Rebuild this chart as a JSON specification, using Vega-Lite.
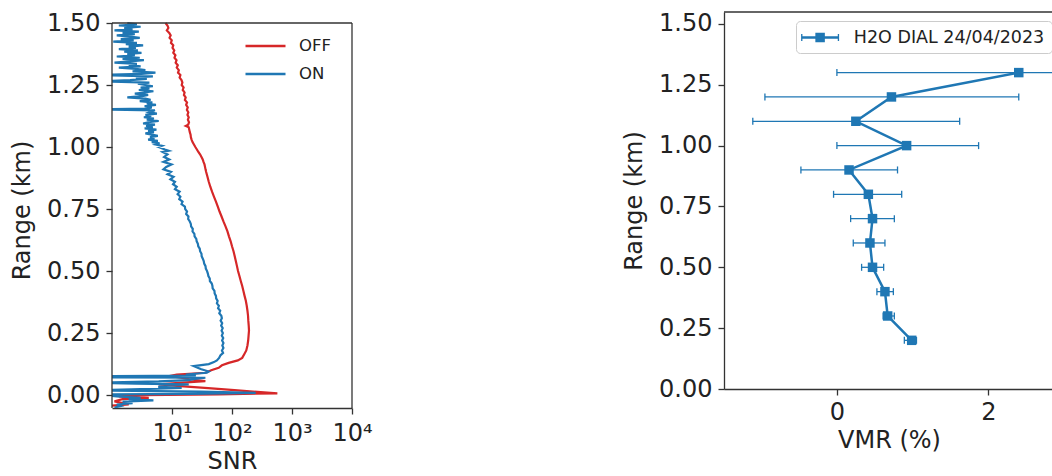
{
  "$schema": "https://vega.github.io/schema/vega-lite/v6.json",
  "padding": {"left": 10, "top": 11, "right": 0, "bottom": 0},
  "spacing": 249,
  "datasets": {
    "snr": [
      {"s":"OFF","r":1.5,"v":7.8},{"s":"OFF","r":1.49,"v":8.4},{"s":"OFF","r":1.48,"v":8.7},{"s":"OFF","r":1.47,"v":8.2},{"s":"OFF","r":1.46,"v":9.0},{"s":"OFF","r":1.45,"v":9.5},{"s":"OFF","r":1.44,"v":9.1},{"s":"OFF","r":1.43,"v":9.9},{"s":"OFF","r":1.42,"v":9.6},{"s":"OFF","r":1.41,"v":10.5},{"s":"OFF","r":1.40,"v":10.2},{"s":"OFF","r":1.39,"v":10.9},{"s":"OFF","r":1.38,"v":10.5},{"s":"OFF","r":1.37,"v":11.4},{"s":"OFF","r":1.36,"v":11.0},{"s":"OFF","r":1.35,"v":11.9},{"s":"OFF","r":1.34,"v":11.5},{"s":"OFF","r":1.33,"v":12.5},{"s":"OFF","r":1.32,"v":12.0},{"s":"OFF","r":1.31,"v":13.0},{"s":"OFF","r":1.30,"v":12.6},{"s":"OFF","r":1.29,"v":13.8},{"s":"OFF","r":1.28,"v":13.4},{"s":"OFF","r":1.27,"v":14.4},{"s":"OFF","r":1.26,"v":14.9},{"s":"OFF","r":1.25,"v":14.5},{"s":"OFF","r":1.24,"v":15.6},{"s":"OFF","r":1.23,"v":15.1},{"s":"OFF","r":1.22,"v":16.2},{"s":"OFF","r":1.21,"v":15.8},{"s":"OFF","r":1.20,"v":16.9},{"s":"OFF","r":1.19,"v":16.4},{"s":"OFF","r":1.18,"v":17.8},{"s":"OFF","r":1.17,"v":17.2},{"s":"OFF","r":1.16,"v":18.3},{"s":"OFF","r":1.15,"v":17.7},{"s":"OFF","r":1.14,"v":18.7},{"s":"OFF","r":1.13,"v":18.1},{"s":"OFF","r":1.12,"v":19.0},{"s":"OFF","r":1.11,"v":18.4},{"s":"OFF","r":1.10,"v":19.2},{"s":"OFF","r":1.09,"v":18.6},{"s":"OFF","r":1.085,"v":17.0},{"s":"OFF","r":1.08,"v":19.0},{"s":"OFF","r":1.07,"v":19.4},{"s":"OFF","r":1.06,"v":19.8},{"s":"OFF","r":1.05,"v":20.4},{"s":"OFF","r":1.04,"v":20.6},{"s":"OFF","r":1.03,"v":21.2},{"s":"OFF","r":1.02,"v":22.0},{"s":"OFF","r":1.01,"v":23.2},{"s":"OFF","r":1.00,"v":24.5},
      {"s":"OFF","r":0.99,"v":26},{"s":"OFF","r":0.98,"v":27.5},{"s":"OFF","r":0.97,"v":29.5},{"s":"OFF","r":0.96,"v":31},{"s":"OFF","r":0.95,"v":32.5},{"s":"OFF","r":0.94,"v":33.5},{"s":"OFF","r":0.93,"v":34.8},{"s":"OFF","r":0.92,"v":35.5},{"s":"OFF","r":0.91,"v":36.2},{"s":"OFF","r":0.90,"v":37},{"s":"OFF","r":0.88,"v":39},{"s":"OFF","r":0.86,"v":41},{"s":"OFF","r":0.84,"v":43.5},{"s":"OFF","r":0.82,"v":46.5},{"s":"OFF","r":0.80,"v":50},{"s":"OFF","r":0.78,"v":54},{"s":"OFF","r":0.76,"v":58},{"s":"OFF","r":0.74,"v":62},{"s":"OFF","r":0.72,"v":67},{"s":"OFF","r":0.70,"v":72},{"s":"OFF","r":0.68,"v":78},{"s":"OFF","r":0.66,"v":84},{"s":"OFF","r":0.64,"v":89},{"s":"OFF","r":0.62,"v":95},{"s":"OFF","r":0.60,"v":100},{"s":"OFF","r":0.58,"v":106},{"s":"OFF","r":0.56,"v":111},{"s":"OFF","r":0.54,"v":116},{"s":"OFF","r":0.52,"v":121},{"s":"OFF","r":0.50,"v":126},{"s":"OFF","r":0.48,"v":133},{"s":"OFF","r":0.46,"v":140},{"s":"OFF","r":0.44,"v":148},{"s":"OFF","r":0.42,"v":155},{"s":"OFF","r":0.40,"v":162},{"s":"OFF","r":0.38,"v":170},{"s":"OFF","r":0.36,"v":176},{"s":"OFF","r":0.34,"v":181},{"s":"OFF","r":0.32,"v":185},{"s":"OFF","r":0.30,"v":187},{"s":"OFF","r":0.28,"v":190},{"s":"OFF","r":0.26,"v":192},{"s":"OFF","r":0.24,"v":189},{"s":"OFF","r":0.22,"v":186},{"s":"OFF","r":0.20,"v":181},{"s":"OFF","r":0.18,"v":173},{"s":"OFF","r":0.165,"v":160},{"s":"OFF","r":0.15,"v":148},{"s":"OFF","r":0.14,"v":125},{"s":"OFF","r":0.13,"v":88},{"s":"OFF","r":0.12,"v":68},{"s":"OFF","r":0.11,"v":60},{"s":"OFF","r":0.10,"v":45},{"s":"OFF","r":0.09,"v":36},{"s":"OFF","r":0.083,"v":12},{"s":"OFF","r":0.077,"v":9},{"s":"OFF","r":0.07,"v":14},{"s":"OFF","r":0.062,"v":22},{"s":"OFF","r":0.056,"v":36},{"s":"OFF","r":0.05,"v":15},{"s":"OFF","r":0.043,"v":6},{"s":"OFF","r":0.037,"v":12},{"s":"OFF","r":0.028,"v":40},{"s":"OFF","r":0.02,"v":110},{"s":"OFF","r":0.012,"v":300},{"s":"OFF","r":0.007,"v":570},{"s":"OFF","r":0.003,"v":60},{"s":"OFF","r":0.0,"v":3},{"s":"OFF","r":-0.005,"v":1.3},{"s":"OFF","r":-0.011,"v":4.1},{"s":"OFF","r":-0.016,"v":1.5},{"s":"OFF","r":-0.025,"v":1.1},{"s":"OFF","r":-0.037,"v":1.9},{"s":"OFF","r":-0.044,"v":0.8},{"s":"OFF","r":-0.052,"v":0.8},
      {"s":"ON","r":1.5,"v":1.8},{"s":"ON","r":1.495,"v":2.6},{"s":"ON","r":1.49,"v":1.3},{"s":"ON","r":1.485,"v":3.0},{"s":"ON","r":1.48,"v":1.6},{"s":"ON","r":1.475,"v":2.2},{"s":"ON","r":1.47,"v":1.1},{"s":"ON","r":1.465,"v":2.8},{"s":"ON","r":1.46,"v":1.5},{"s":"ON","r":1.455,"v":2.4},{"s":"ON","r":1.45,"v":1.2},{"s":"ON","r":1.445,"v":2.0},{"s":"ON","r":1.44,"v":2.9},{"s":"ON","r":1.435,"v":1.4},{"s":"ON","r":1.43,"v":2.3},{"s":"ON","r":1.425,"v":1.05},{"s":"ON","r":1.42,"v":2.6},{"s":"ON","r":1.415,"v":1.7},{"s":"ON","r":1.41,"v":3.3},{"s":"ON","r":1.405,"v":1.9},{"s":"ON","r":1.40,"v":2.5},{"s":"ON","r":1.395,"v":1.3},{"s":"ON","r":1.39,"v":2.7},{"s":"ON","r":1.385,"v":1.6},{"s":"ON","r":1.38,"v":3.1},{"s":"ON","r":1.375,"v":1.8},{"s":"ON","r":1.37,"v":2.4},{"s":"ON","r":1.365,"v":1.2},{"s":"ON","r":1.36,"v":2.9},{"s":"ON","r":1.355,"v":1.5},{"s":"ON","r":1.35,"v":3.4},{"s":"ON","r":1.345,"v":2.0},{"s":"ON","r":1.34,"v":1.1},{"s":"ON","r":1.335,"v":2.6},{"s":"ON","r":1.33,"v":1.9},{"s":"ON","r":1.325,"v":3.0},{"s":"ON","r":1.32,"v":1.3},{"s":"ON","r":1.315,"v":2.5},{"s":"ON","r":1.31,"v":3.6},{"s":"ON","r":1.305,"v":2.2},{"s":"ON","r":1.30,"v":5.3},{"s":"ON","r":1.295,"v":3.1},{"s":"ON","r":1.29,"v":0.5},{"s":"ON","r":1.285,"v":4.8},{"s":"ON","r":1.28,"v":2.5},{"s":"ON","r":1.275,"v":3.8},{"s":"ON","r":1.27,"v":2.0},{"s":"ON","r":1.265,"v":0.6},{"s":"ON","r":1.26,"v":4.2},{"s":"ON","r":1.255,"v":2.7},{"s":"ON","r":1.25,"v":3.6},{"s":"ON","r":1.245,"v":4.8},{"s":"ON","r":1.24,"v":3.0},{"s":"ON","r":1.235,"v":4.2},{"s":"ON","r":1.23,"v":2.8},{"s":"ON","r":1.225,"v":4.9},{"s":"ON","r":1.22,"v":3.5},{"s":"ON","r":1.215,"v":2.4},{"s":"ON","r":1.21,"v":4.0},{"s":"ON","r":1.205,"v":3.2},{"s":"ON","r":1.20,"v":1.8},{"s":"ON","r":1.195,"v":3.6},{"s":"ON","r":1.19,"v":4.4},{"s":"ON","r":1.185,"v":2.9},{"s":"ON","r":1.18,"v":4.7},{"s":"ON","r":1.175,"v":3.8},{"s":"ON","r":1.17,"v":5.4},{"s":"ON","r":1.165,"v":3.5},{"s":"ON","r":1.16,"v":4.6},{"s":"ON","r":1.155,"v":3.9},{"s":"ON","r":1.152,"v":0.5},{"s":"ON","r":1.148,"v":5.2},{"s":"ON","r":1.14,"v":4.2},{"s":"ON","r":1.135,"v":5.6},{"s":"ON","r":1.13,"v":3.6},{"s":"ON","r":1.125,"v":4.5},{"s":"ON","r":1.12,"v":3.4},{"s":"ON","r":1.115,"v":5.0},{"s":"ON","r":1.11,"v":3.8},{"s":"ON","r":1.105,"v":6.0},{"s":"ON","r":1.10,"v":4.0},{"s":"ON","r":1.095,"v":3.3},{"s":"ON","r":1.09,"v":5.2},{"s":"ON","r":1.085,"v":3.7},{"s":"ON","r":1.08,"v":4.8},{"s":"ON","r":1.075,"v":3.5},{"s":"ON","r":1.07,"v":5.5},{"s":"ON","r":1.065,"v":4.0},{"s":"ON","r":1.06,"v":5.0},{"s":"ON","r":1.055,"v":3.6},{"s":"ON","r":1.05,"v":4.6},{"s":"ON","r":1.045,"v":5.8},{"s":"ON","r":1.04,"v":4.3},{"s":"ON","r":1.035,"v":5.1},{"s":"ON","r":1.03,"v":4.0},{"s":"ON","r":1.025,"v":5.8},{"s":"ON","r":1.02,"v":4.6},{"s":"ON","r":1.015,"v":6.2},{"s":"ON","r":1.01,"v":5.4},{"s":"ON","r":1.005,"v":6.8},{"s":"ON","r":1.00,"v":6.0},
      {"s":"ON","r":0.99,"v":7.6},{"s":"ON","r":0.985,"v":8.8},{"s":"ON","r":0.98,"v":7.0},{"s":"ON","r":0.97,"v":8.4},{"s":"ON","r":0.96,"v":7.4},{"s":"ON","r":0.95,"v":9.0},{"s":"ON","r":0.94,"v":7.2},{"s":"ON","r":0.93,"v":9.8},{"s":"ON","r":0.92,"v":8.0},{"s":"ON","r":0.91,"v":7.2},{"s":"ON","r":0.90,"v":9.6},{"s":"ON","r":0.89,"v":8.4},{"s":"ON","r":0.88,"v":10.6},{"s":"ON","r":0.87,"v":9.4},{"s":"ON","r":0.86,"v":11.2},{"s":"ON","r":0.85,"v":10.4},{"s":"ON","r":0.84,"v":12.0},{"s":"ON","r":0.83,"v":11.2},{"s":"ON","r":0.82,"v":13.4},{"s":"ON","r":0.81,"v":12.4},{"s":"ON","r":0.80,"v":13.8},{"s":"ON","r":0.79,"v":13.2},{"s":"ON","r":0.78,"v":15.0},{"s":"ON","r":0.77,"v":14.4},{"s":"ON","r":0.76,"v":16.4},{"s":"ON","r":0.75,"v":16.6},{"s":"ON","r":0.74,"v":17.8},{"s":"ON","r":0.73,"v":17.2},{"s":"ON","r":0.72,"v":18.8},{"s":"ON","r":0.71,"v":18.6},{"s":"ON","r":0.70,"v":19.8},{"s":"ON","r":0.69,"v":20.6},{"s":"ON","r":0.68,"v":20.8},{"s":"ON","r":0.67,"v":22.2},{"s":"ON","r":0.66,"v":22.0},{"s":"ON","r":0.65,"v":23.6},{"s":"ON","r":0.64,"v":23.8},{"s":"ON","r":0.63,"v":25.4},{"s":"ON","r":0.62,"v":25.8},{"s":"ON","r":0.61,"v":27.0},{"s":"ON","r":0.60,"v":27.4},{"s":"ON","r":0.59,"v":29.0},{"s":"ON","r":0.58,"v":29.4},{"s":"ON","r":0.57,"v":31.0},{"s":"ON","r":0.56,"v":31.2},{"s":"ON","r":0.55,"v":32.6},{"s":"ON","r":0.54,"v":33.8},{"s":"ON","r":0.53,"v":34.4},{"s":"ON","r":0.52,"v":36.2},{"s":"ON","r":0.51,"v":36.6},{"s":"ON","r":0.50,"v":38.4},{"s":"ON","r":0.49,"v":39.6},{"s":"ON","r":0.48,"v":40.4},{"s":"ON","r":0.47,"v":42.6},{"s":"ON","r":0.46,"v":42.8},{"s":"ON","r":0.45,"v":46.0},{"s":"ON","r":0.44,"v":47.2},{"s":"ON","r":0.43,"v":47.6},{"s":"ON","r":0.42,"v":51.0},{"s":"ON","r":0.41,"v":51.4},{"s":"ON","r":0.40,"v":54.0},{"s":"ON","r":0.39,"v":54.4},{"s":"ON","r":0.38,"v":57.6},{"s":"ON","r":0.37,"v":56.0},{"s":"ON","r":0.36,"v":60.4},{"s":"ON","r":0.35,"v":58.6},{"s":"ON","r":0.34,"v":63.6},{"s":"ON","r":0.33,"v":61.4},{"s":"ON","r":0.32,"v":66.4},{"s":"ON","r":0.31,"v":67.8},{"s":"ON","r":0.30,"v":64.6},{"s":"ON","r":0.29,"v":68.6},{"s":"ON","r":0.28,"v":66.0},{"s":"ON","r":0.27,"v":70.0},{"s":"ON","r":0.26,"v":67.0},{"s":"ON","r":0.25,"v":70.4},{"s":"ON","r":0.24,"v":67.6},{"s":"ON","r":0.23,"v":71.4},{"s":"ON","r":0.22,"v":68.4},{"s":"ON","r":0.21,"v":72.0},{"s":"ON","r":0.20,"v":69.0},{"s":"ON","r":0.19,"v":72.0},{"s":"ON","r":0.18,"v":68.0},{"s":"ON","r":0.17,"v":71.0},{"s":"ON","r":0.16,"v":64.0},{"s":"ON","r":0.15,"v":61.0},{"s":"ON","r":0.14,"v":56.0},{"s":"ON","r":0.133,"v":50.0},{"s":"ON","r":0.125,"v":41.0},{"s":"ON","r":0.117,"v":23.0},{"s":"ON","r":0.105,"v":30.0},{"s":"ON","r":0.095,"v":41.0},{"s":"ON","r":0.09,"v":38.0},{"s":"ON","r":0.083,"v":17.0},{"s":"ON","r":0.079,"v":25.0},{"s":"ON","r":0.076,"v":0.5},{"s":"ON","r":0.072,"v":0.5},{"s":"ON","r":0.07,"v":36.0},{"s":"ON","r":0.065,"v":24.0},{"s":"ON","r":0.06,"v":19.0},{"s":"ON","r":0.055,"v":6.0},{"s":"ON","r":0.05,"v":0.5},{"s":"ON","r":0.046,"v":2.5},{"s":"ON","r":0.043,"v":19.0},{"s":"ON","r":0.038,"v":8.0},{"s":"ON","r":0.033,"v":5.9},{"s":"ON","r":0.029,"v":14.5},{"s":"ON","r":0.024,"v":3.0},{"s":"ON","r":0.019,"v":0.5},{"s":"ON","r":0.014,"v":30.0},{"s":"ON","r":0.009,"v":248.0},{"s":"ON","r":0.005,"v":20.0},{"s":"ON","r":0.002,"v":0.5},{"s":"ON","r":-0.005,"v":1.2},{"s":"ON","r":-0.011,"v":3.0},{"s":"ON","r":-0.016,"v":1.9},{"s":"ON","r":-0.021,"v":4.9},{"s":"ON","r":-0.026,"v":1.5},{"s":"ON","r":-0.032,"v":2.2},{"s":"ON","r":-0.038,"v":1.2},{"s":"ON","r":-0.044,"v":1.4},{"s":"ON","r":-0.05,"v":1.1}
    ],
    "vmr": [
      {"r":1.3,"v":2.40,"lo":0.0,"hi":4.8},
      {"r":1.2,"v":0.72,"lo":-0.95,"hi":2.40},
      {"r":1.1,"v":0.25,"lo":-1.11,"hi":1.62},
      {"r":1.0,"v":0.92,"lo":0.0,"hi":1.87},
      {"r":0.9,"v":0.16,"lo":-0.475,"hi":0.80},
      {"r":0.8,"v":0.415,"lo":-0.044,"hi":0.855},
      {"r":0.7,"v":0.47,"lo":0.181,"hi":0.758},
      {"r":0.6,"v":0.436,"lo":0.216,"hi":0.634},
      {"r":0.5,"v":0.47,"lo":0.326,"hi":0.617},
      {"r":0.4,"v":0.634,"lo":0.528,"hi":0.745},
      {"r":0.3,"v":0.67,"lo":0.61,"hi":0.758},
      {"r":0.2,"v":0.987,"lo":0.89,"hi":1.05}
    ]
  },
  "hconcat": [
    {
      "width": 240,
      "height": 396,
      "view": {"stroke": null},
      "layer": [
        {
          "data": {"name": "snr"},
          "mark": {"type": "line", "strokeWidth": 2.2, "clip": true},
          "encoding": {
            "x": {
              "field": "v", "type": "quantitative",
              "scale": {"type": "log", "domain": [1, 10000], "nice": false},
              "axis": {"values": [10, 100, 1000, 10000], "labelExpr": "'10' + (datum.value == 10 ? '¹' : datum.value == 100 ? '²' : datum.value == 1000 ? '³' : '⁴')", "title": "SNR", "domain": true, "labelPadding": 7, "labelFlush": false, "labelOverlap": false}
            },
            "y": {
              "field": "r", "type": "quantitative",
              "scale": {"domain": [-0.052, 1.5444], "nice": false, "zero": false},
              "axis": {"values": [0, 0.25, 0.5, 0.75, 1, 1.25, 1.5], "format": ".2f", "title": "Range (km)", "domain": false, "titlePadding": 12, "labelPadding": 6, "labelFlush": false}
            },
            "color": {
              "field": "s", "type": "nominal",
              "scale": {"domain": ["OFF", "ON"], "range": ["#d62728", "#1f77b4"]},
              "legend": {"orient": "none", "legendX": 142, "legendY": 22.5, "title": null, "padding": 0, "symbolType": "M-2,0H2", "symbolSize": 400, "symbolStrokeWidth": 2.5, "labelOffset": 22, "labelFontSize": 16.5, "rowPadding": 8}
            },
            "order": {"field": "r", "type": "quantitative"}
          }
        },
        {
          "data": {"values": [{}]},
          "mark": {"type": "rule", "color": "#333333", "strokeWidth": 1.3},
          "encoding": {"y": {"datum": 1.5}}
        },
        {
          "data": {"values": [{}]},
          "mark": {"type": "rule", "color": "#333333", "strokeWidth": 1.3},
          "encoding": {"x": {"datum": 1}, "y": {"datum": -0.052}, "y2": {"datum": 1.5}}
        },
        {
          "data": {"values": [{}]},
          "mark": {"type": "rule", "color": "#333333", "strokeWidth": 1.3},
          "encoding": {"x": {"datum": 10000}, "y": {"datum": -0.052}, "y2": {"datum": 1.5}}
        }
      ]
    },
    {
      "width": 330,
      "height": 377,
      "view": {"stroke": null},
      "layer": [
        {
          "data": {"name": "vmr"},
          "mark": {"type": "rule", "color": "#1f77b4", "strokeWidth": 1.3, "clip": true},
          "encoding": {
            "y": {
              "field": "r", "type": "quantitative",
              "scale": {"domain": [0, 1.549], "nice": false, "zero": false},
              "axis": {"values": [0, 0.25, 0.5, 0.75, 1, 1.25, 1.5], "format": ".2f", "title": "Range (km)", "titlePadding": 12, "labelPadding": 6, "labelFlush": false}
            },
            "x": {"field": "lo", "type": "quantitative", "scale": {"domain": [-1.49, 2.865], "nice": false, "zero": false}, "axis": {"values": [0, 2], "format": "d", "title": "VMR (%)", "labelPadding": 5, "labelFlush": false}},
            "x2": {"field": "hi"}
          }
        },
        {
          "data": {"name": "vmr"},
          "mark": {"type": "tick", "orient": "vertical", "color": "#1f77b4", "thickness": 1.3, "size": 7, "clip": true, "opacity": 1},
          "encoding": {"x": {"field": "lo", "type": "quantitative"}, "y": {"field": "r", "type": "quantitative"}}
        },
        {
          "data": {"name": "vmr"},
          "mark": {"type": "tick", "orient": "vertical", "color": "#1f77b4", "thickness": 1.3, "size": 7, "clip": true, "opacity": 1},
          "encoding": {"x": {"field": "hi", "type": "quantitative"}, "y": {"field": "r", "type": "quantitative"}}
        },
        {
          "data": {"name": "vmr"},
          "mark": {"type": "line", "color": "#1f77b4", "strokeWidth": 2.5},
          "encoding": {"x": {"field": "v", "type": "quantitative"}, "y": {"field": "r", "type": "quantitative"}, "order": {"field": "r", "type": "quantitative"}}
        },
        {
          "data": {"name": "vmr"},
          "mark": {"type": "point", "shape": "square", "filled": true, "size": 90, "opacity": 1},
          "encoding": {
            "x": {"field": "v", "type": "quantitative"},
            "y": {"field": "r", "type": "quantitative"},
            "color": {
              "datum": "H2O DIAL 24/04/2023",
              "scale": {"range": ["#1f77b4"]},
              "legend": {"orient": "none", "legendX": 72, "legendY": 9, "title": null, "padding": 7, "strokeColor": "#cccccc", "cornerRadius": 4, "fillColor": "white", "symbolType": "M-1.2,-0.13H2.8V0.13H-1.2Z M0.3,-0.5H1.3V0.5H0.3Z M-1.2,-0.37H-1.06V0.37H-1.2Z M2.66,-0.37H2.8V0.37H2.66Z", "symbolSize": 361, "symbolFillColor": "#1f77b4", "symbolStrokeWidth": 0, "labelOffset": 31.8, "labelFontSize": 17.5, "labelLimit": 400}
            }
          }
        },
        {
          "data": {"values": [{}]},
          "mark": {"type": "rule", "color": "#333333", "strokeWidth": 1.3},
          "encoding": {"y": {"datum": 1.549}}
        }
      ]
    }
  ],
  "resolve": {"scale": {"color": "independent", "x": "independent", "y": "independent"}},
  "config": {
    "font": "DejaVu Sans",
    "axis": {"labelFont": "DejaVu Sans", "labelFontSize": 24, "titleFont": "DejaVu Sans", "titleFontSize": 24, "titleFontWeight": "normal", "labelColor": "#222222", "titleColor": "#222222", "tickColor": "#333333", "tickWidth": 1.3, "tickSize": 6, "grid": false, "domainColor": "#333333", "domainWidth": 1.3},
    "legend": {"labelFont": "DejaVu Sans", "labelColor": "#222222"}
  }
}
